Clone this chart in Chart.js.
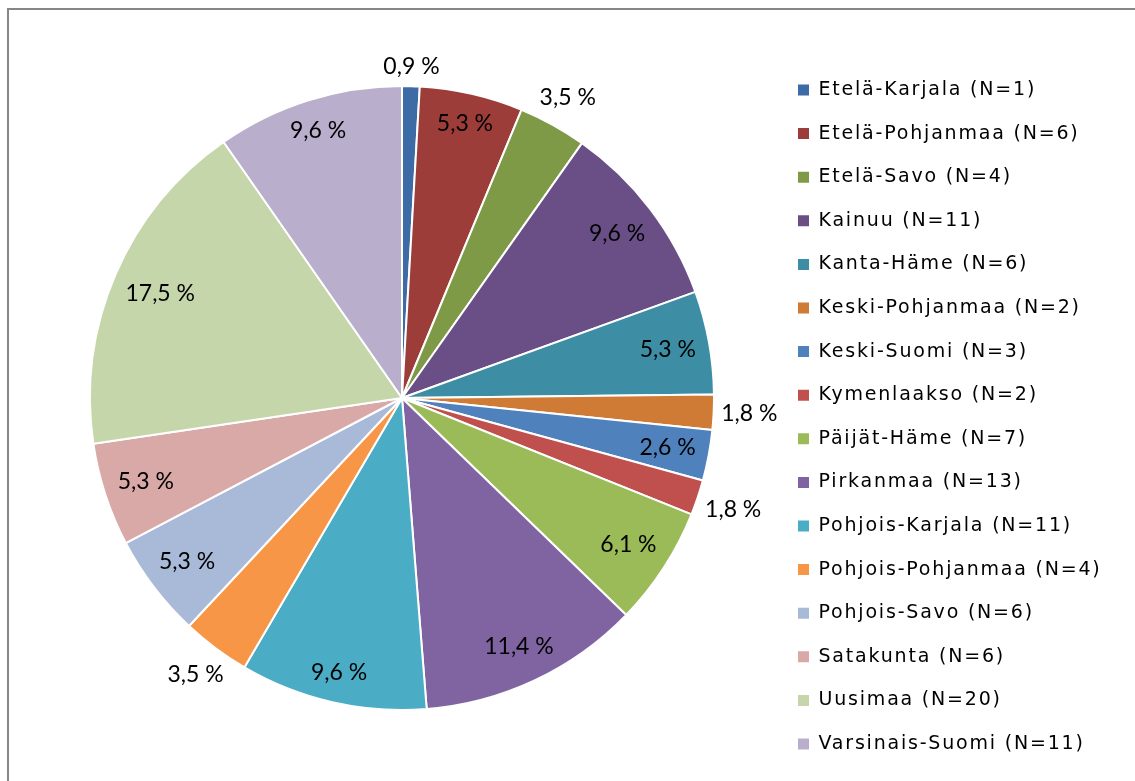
<!DOCTYPE html>
<html>
<head>
<meta charset="utf-8">
<title>Maakunnat</title>
<script src="https://cdn.jsdelivr.net/npm/chart.js@4.4.1/dist/chart.umd.min.js"></script>
<style>
  html, body { margin: 0; padding: 0; background: #fff; }
  #wrap { position: relative; width: 1135px; height: 781px; overflow: hidden; }
  #frame { position: absolute; left: 7px; top: 8px; width: 1200px; height: 900px;
           border-left: 2px solid #878787; border-top: 2px solid #878787; }
  #regionChart { position: absolute; left: 0; top: 0; }
</style>
</head>
<body>
<div id="wrap">
  <div id="frame"></div>
  <canvas id="regionChart" width="1135" height="781"></canvas>
</div>
<script>
var regions = ['Etelä-Karjala', 'Etelä-Pohjanmaa', 'Etelä-Savo', 'Kainuu', 'Kanta-Häme',
    'Keski-Pohjanmaa', 'Keski-Suomi', 'Kymenlaakso', 'Päijät-Häme', 'Pirkanmaa',
    'Pohjois-Karjala', 'Pohjois-Pohjanmaa', 'Pohjois-Savo', 'Satakunta', 'Uusimaa',
    'Varsinais-Suomi'];
var counts = [1, 6, 4, 11, 6, 2, 3, 2, 7, 13, 11, 4, 6, 6, 20, 11];
var shares = [0.9, 5.3, 3.5, 9.6, 5.3, 1.8, 2.6, 1.8, 6.1, 11.4, 9.6, 3.5, 5.3, 5.3, 17.5, 9.6];
var colors = ['#3d6ba5', '#9d3d3a', '#7e9a47', '#6a4f87', '#3d8ea4', '#cf7b35',
    '#4f81bd', '#c0504d', '#9bbb59', '#8064a2', '#4bacc6', '#f79646',
    '#a9bad8', '#d9a9a8', '#c6d6ab', '#b9aecb'];
// slices whose label sits outside the pie
var outsideLabels = [0, 2, 5, 7, 11];

document.addEventListener('DOMContentLoaded', function() {
    var ctx = document.getElementById('regionChart').getContext('2d');

    // keep the legend column at a fixed width so the pie stays in place
    var fixedLegend = {
        id: 'fixedLegend',
        afterInit: function(chart) {
            var legend = chart.legend;
            var fit = legend.fit;
            legend.fit = function() {
                fit.call(this);
                this.width = 361.6;
            };
        },
        beforeDraw: function(chart) {
            chart.ctx.letterSpacing = '1.8px';
        },
        beforeDatasetsDraw: function(chart) {
            chart.ctx.letterSpacing = '0px';
        }
    };

    var sliceLabels = {
        id: 'sliceLabels',
        afterDatasetsDraw: function(chart) {
            var c = chart.ctx;
            var meta = chart.getDatasetMeta(0);
            c.save();
            c.letterSpacing = '0px';
            c.font = '23px Lato';
            c.fillStyle = '#000';
            c.textAlign = 'center';
            c.textBaseline = 'middle';
            meta.data.forEach(function(arc, i) {
                var p = arc.getProps(['x', 'y', 'startAngle', 'endAngle', 'outerRadius'], true);
                var mid = (p.startAngle + p.endAngle) / 2;
                var cos = Math.cos(mid), sin = Math.sin(mid);
                var text = shares[i].toFixed(1).replace('.', ',') + ' %';
                var halfW = c.measureText(text).width / 2;
                var d;
                if (outsideLabels.indexOf(i) >= 0) {
                    d = p.outerRadius + 7 + Math.abs(cos) * halfW + Math.abs(sin) * 12;
                } else {
                    d = p.outerRadius - 12 - Math.abs(cos) * halfW - Math.abs(sin) * 12;
                }
                c.fillText(text, p.x + cos * d, p.y + sin * d);
            });
            c.restore();
        }
    };

    var baseLabels = Chart.overrides.doughnut.plugins.legend.labels.generateLabels;

    var regionChart = new Chart(ctx, {
        type: 'pie',
        data: {
            labels: regions.map(function(r, i) { return r + ' (N=' + counts[i] + ')'; }),
            datasets: [{
                data: shares,
                backgroundColor: colors,
                borderColor: '#fff',
                borderWidth: 2,
                radius: 312
            }]
        },
        options: {
            responsive: false,
            animation: false,
            layout: {
                padding: { left: 30.6, right: 0, top: 15, bottom: 0 }
            },
            plugins: {
                legend: {
                    position: 'right',
                    title: {
                        display: true,
                        text: ' ',
                        font: { size: 10 },
                        padding: { top: 26, bottom: 0 }
                    },
                    labels: {
                        boxWidth: 11,
                        boxHeight: 11,
                        padding: 24.6,
                        color: '#000',
                        font: { family: 'DejaVu Sans', size: 19 },
                        generateLabels: function(chart) {
                            var items = baseLabels(chart);
                            items.forEach(function(item) { item.lineWidth = 0; });
                            return items;
                        }
                    }
                },
                tooltip: { enabled: false }
            }
        },
        plugins: [fixedLegend, sliceLabels]
    });
});
</script>
</body>
</html>
